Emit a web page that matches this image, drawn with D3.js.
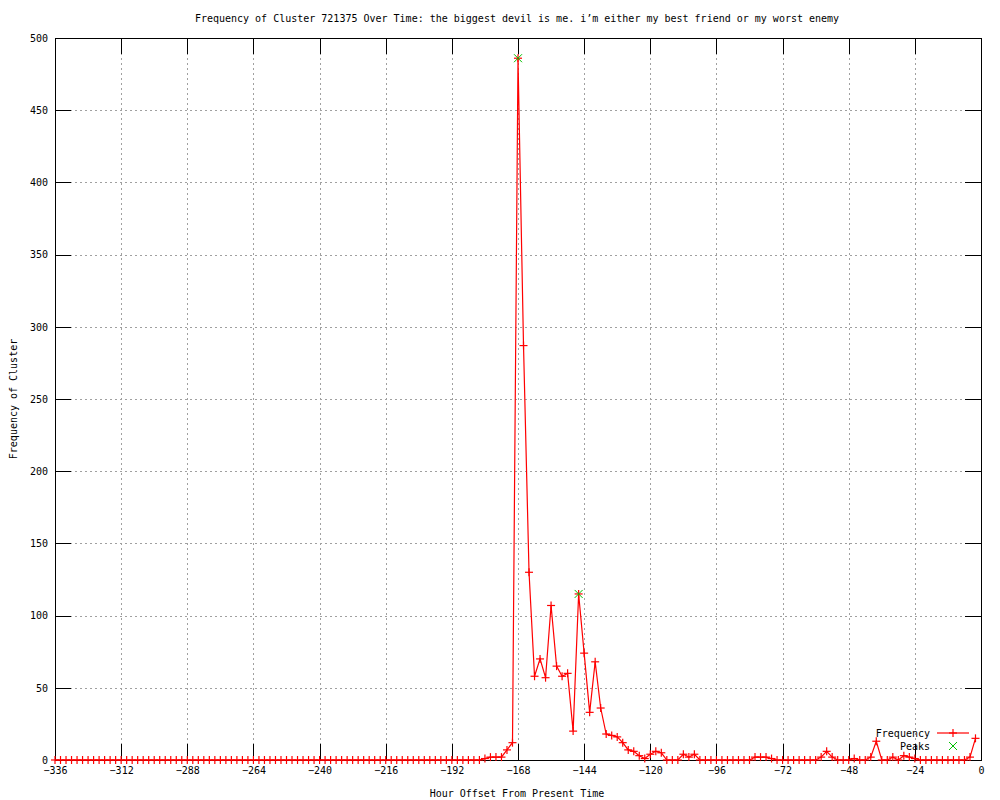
<!DOCTYPE html>
<html>
<head>
<meta charset="utf-8">
<script src="https://cdn.jsdelivr.net/npm/d3@7"></script>
<style>
  body { margin: 0; background: #fff; }
  text { font-family: "DejaVu Sans Mono", monospace; font-size: 10px; fill: #000; }
</style>
</head>
<body>
<div id="chart"></div>
<script>
var title = "Frequency of Cluster 721375 Over Time: the biggest devil is me. i’m either my best friend or my worst enemy";

// hours, every 2h from -336 to -2
var hours = d3.range(-336, 0, 2);

// frequency per hour slot (-336 ... -2)
var zeros76 = [0,0,0,0,0,0,0,0,0,0,0,0,0,0,0,0,0,0,0,0,0,0,0,0,0,0,0,0,0,0,0,0,0,0,0,0,0,0,0,0,0,0,0,0,0,0,0,0,0,0,0,0,0,0,0,0,0,0,0,0,0,0,0,0,0,0,0,0,0,0,0,0,0,0,0,0,0];
var freqTail = [
  // -182 .. -170
  0, 1, 2, 2, 2, 7, 12,
  // -168 .. -150
  486, 287, 130, 58, 70, 57, 107, 65, 58, 60,
  // -148 .. -130
  20, 115, 74, 33, 68, 36, 18, 17, 16, 12,
  // -128 .. -110
  7, 6, 3, 1, 4, 6, 5, 0, 0, 0,
  // -108 .. -90
  4, 2, 4, 0, 0, 0, 0, 0, 0, 0,
  // -88 .. -70
  0, 0, 0, 2, 2, 2, 1, 0, 0, 0,
  // -68 .. -50
  0, 0, 0, 0, 0, 2, 6, 2, 0, 0,
  // -48 .. -30
  0, 1, 0, 0, 2, 13, 0, 0, 2, 0,
  // -28 .. -10
  3, 2, 1, 0, 0, 0, 0, 0, 0, 0,
  // -8 .. -2
  0, 0, 2, 15
];
var freq = zeros76.concat(freqTail);

var peakHours = [-168, -146];
var peakValues = [486, 115];

var xTicks = d3.range(-336, 1, 24);
var yTicks = d3.range(0, 501, 50);

var W = 1000, H = 800;
var margin = {left: 55, top: 38, right: 19, bottom: 40};
var width = W - margin.left - margin.right,
    height = H - margin.top - margin.bottom;

var svg = d3.select("#chart").append("svg")
  .attr("width", W)
  .attr("height", H);

var x = d3.scaleLinear().domain([-336, 0]).range([0, width]);
var y = d3.scaleLinear().domain([0, 500]).range([height, 0]);

var g = svg.append("g")
  .attr("transform", "translate(" + margin.left + "," + margin.top + ")");

// grid
g.append("g").selectAll("line.vg")
  .data(xTicks.slice(1, -1))
  .enter().append("line")
  .attr("x1", function(d) { return Math.round(x(d)) + 0.5; })
  .attr("x2", function(d) { return Math.round(x(d)) + 0.5; })
  .attr("y1", 0).attr("y2", height)
  .style("stroke", "#a0a0a0")
  .style("stroke-dasharray", "2,3");

g.append("g").selectAll("line.hg")
  .data(yTicks.slice(1, -1))
  .enter().append("line")
  .attr("y1", function(d) { return Math.round(y(d)) + 0.5; })
  .attr("y2", function(d) { return Math.round(y(d)) + 0.5; })
  .attr("x1", 0).attr("x2", width)
  .style("stroke", "#a0a0a0")
  .style("stroke-dasharray", "2,3");

// axes, ticks pointing inward
var xAxis = d3.axisBottom(x).tickValues(xTicks).tickSize(-16).tickPadding(7).tickFormat(d3.format("d"));
var xTop = d3.axisTop(x).tickValues(xTicks).tickSize(-16).tickFormat("");
var yAxis = d3.axisLeft(y).tickValues(yTicks).tickSize(-16).tickPadding(7).tickFormat(d3.format("d"));
var yRight = d3.axisRight(y).tickValues(yTicks).tickSize(-16).tickFormat("");

function styleAxis(sel) {
  sel.select(".domain").remove();
  sel.selectAll("line").style("stroke", "#000").attr("shape-rendering", "crispEdges");
  sel.selectAll("text").style("font-family", "DejaVu Sans Mono, monospace").style("font-size", "10px");
}

g.append("g").attr("transform", "translate(0," + height + ")").call(xAxis).call(styleAxis);
g.append("g").call(xTop).call(styleAxis);
g.append("g").call(yAxis).call(styleAxis);
g.append("g").attr("transform", "translate(" + width + ",0)").call(yRight).call(styleAxis);

// border
g.append("rect")
  .attr("x", 0.5).attr("y", 0.5)
  .attr("width", width).attr("height", height)
  .style("fill", "none").style("stroke", "#000")
  .attr("shape-rendering", "crispEdges");

// frequency line
var line = d3.line()
  .x(function(d, i) { return x(hours[i]); })
  .y(function(d) { return y(d); });

g.append("path")
  .datum(freq)
  .attr("d", line)
  .style("fill", "none")
  .style("stroke", "#ff0000")
  .style("stroke-width", 1.2);

var plusSize = 4;
function plus(sel) {
  sel.append("line").attr("x1", -plusSize).attr("x2", plusSize).attr("y1", 0).attr("y2", 0);
  sel.append("line").attr("y1", -plusSize).attr("y2", plusSize).attr("x1", 0).attr("x2", 0);
}
function cross(sel) {
  sel.append("line").attr("x1", -4).attr("x2", 4).attr("y1", -4).attr("y2", 4);
  sel.append("line").attr("x1", -4).attr("x2", 4).attr("y1", 4).attr("y2", -4);
}

g.append("g").selectAll("g.pt")
  .data(freq)
  .enter().append("g")
  .attr("class", "pt")
  .attr("transform", function(d, i) { return "translate(" + x(hours[i]) + "," + y(d) + ")"; })
  .style("stroke", "#ff0000").style("stroke-width", 1.2)
  .call(plus);

// peaks
g.append("g").selectAll("g.pk")
  .data(peakHours)
  .enter().append("g")
  .attr("class", "pk")
  .attr("transform", function(d, i) { return "translate(" + x(d) + "," + y(peakValues[i]) + ")"; })
  .style("stroke", "#00c000").style("stroke-width", 1)
  .call(cross);

// legend
var lg = svg.append("g");
lg.append("text").attr("x", 930).attr("y", 733).attr("dy", "0.35em")
  .attr("text-anchor", "end").text("Frequency");
lg.append("line").attr("x1", 937).attr("x2", 969).attr("y1", 733).attr("y2", 733)
  .style("stroke", "#ff0000").style("stroke-width", 1.2);
lg.append("g").attr("transform", "translate(953,733)")
  .style("stroke", "#ff0000").style("stroke-width", 1.2).call(plus);
lg.append("text").attr("x", 930).attr("y", 746).attr("dy", "0.35em")
  .attr("text-anchor", "end").text("Peaks");
lg.append("g").attr("transform", "translate(953,746)")
  .style("stroke", "#00c000").style("stroke-width", 1).call(cross);

// titles
svg.append("text").attr("x", 517).attr("y", 18).attr("dy", "0.35em")
  .attr("text-anchor", "middle").text(title);
svg.append("text").attr("x", 517).attr("y", 793).attr("dy", "0.35em")
  .attr("text-anchor", "middle").text("Hour Offset From Present Time");
svg.append("text")
  .attr("transform", "translate(13," + (margin.top + height / 2) + ") rotate(-90)")
  .attr("dy", "0.35em")
  .attr("text-anchor", "middle").text("Frequency of Cluster");
</script>
</body>
</html>
